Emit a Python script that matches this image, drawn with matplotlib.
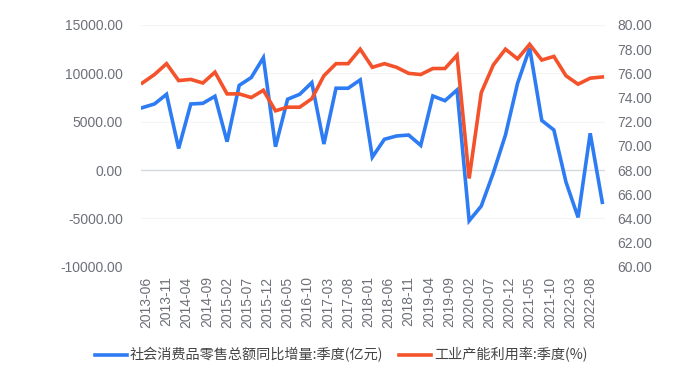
import matplotlib
matplotlib.use('Agg')
import matplotlib.pyplot as plt
import matplotlib.transforms as mtransforms
from matplotlib.ticker import FixedLocator, FuncFormatter

plt.rcParams['font.family'] = ['Noto Sans CJK SC', 'DejaVu Sans']

quarters = ['2013-06', '2013-09', '2013-12',
            '2014-03', '2014-06', '2014-09', '2014-12',
            '2015-03', '2015-06', '2015-09', '2015-12',
            '2016-03', '2016-06', '2016-09', '2016-12',
            '2017-03', '2017-06', '2017-09', '2017-12',
            '2018-03', '2018-06', '2018-09', '2018-12',
            '2019-03', '2019-06', '2019-09', '2019-12',
            '2020-03', '2020-06', '2020-09', '2020-12',
            '2021-03', '2021-06', '2021-09', '2021-12',
            '2022-03', '2022-06', '2022-09', '2022-12']

retail_yoy = [6450, 6830, 7830,
              2230, 6830, 6900, 7630,
              2930, 8750, 9570, 11620,
              2410, 7320, 7830, 9040,
              2690, 8460, 8460, 9320,
              1330, 3180, 3520, 3620,
              2550, 7660, 7170, 8280,
              -5250, -3730, -280, 3620,
              8970, 12600, 5130, 4140,
              -1250, -4900, 3800, -3340]

capacity = [75.2, 75.9, 76.8,
            75.4, 75.5, 75.2, 76.1,
            74.3, 74.3, 74.0, 74.6,
            72.9, 73.2, 73.2, 73.9,
            75.8, 76.8, 76.8, 78.0,
            76.5, 76.8, 76.5, 76.0,
            75.9, 76.4, 76.4, 77.5,
            67.3, 74.4, 76.7, 78.0,
            77.2, 78.4, 77.1, 77.4,
            75.8, 75.1, 75.6, 75.7]

tick_labels = ['2013-06', '2013-11', '2014-04', '2014-09', '2015-02', '2015-07',
               '2015-12', '2016-05', '2016-10', '2017-03', '2017-08', '2018-01',
               '2018-06', '2018-11', '2019-04', '2019-09', '2020-02', '2020-07',
               '2020-12', '2021-05', '2021-10', '2022-03', '2022-08']

left_ticks = [-10000, -5000, 0, 5000, 10000, 15000]
right_ticks = [60, 62, 64, 66, 68, 70, 72, 74, 76, 78, 80]

name_retail = '社会消费品零售总额同比增量:季度(亿元)'
name_capacity = '工业产能利用率:季度(%)'


def month_index(s):
    y, m = s.split('-')
    return (int(y) - 2013) * 12 + int(m) - 6


x = [month_index(q) for q in quarters]
xt = [month_index(t) for t in tick_labels]

BLUE = '#2e7cf3'
ORANGE = '#f4522b'
LABEL = '#6e7079'

fig = plt.figure(figsize=(7, 3.77), dpi=100)
W, H = 700, 377
ax = fig.add_axes([141 / W, 1 - 266.7 / H, 464 / W, (266.7 - 25) / H])
ax2 = ax.twinx()

ax.set_xlim(-0.33, 114.67)
ax.set_ylim(-10000, 15000)
ax2.set_ylim(60, 80)

for a in (ax, ax2):
    for s in a.spines.values():
        s.set_visible(False)
    a.tick_params(length=0, colors=LABEL)

ax.yaxis.set_major_locator(FixedLocator(left_ticks))
ax2.yaxis.set_major_locator(FixedLocator(right_ticks))
fmt = FuncFormatter(lambda v, p: f'{v:.2f}')
ax.yaxis.set_major_formatter(fmt)
ax2.yaxis.set_major_formatter(fmt)
ax.tick_params(axis='y', pad=13, labelsize=10)
ax2.tick_params(axis='y', pad=9, labelsize=10)
for lab in ax.get_yticklabels() + ax2.get_yticklabels():
    lab.set_fontfamily(['Liberation Sans', 'DejaVu Sans'])

ax.set_xticks(xt)
ax.set_xticklabels(tick_labels, rotation=90, fontsize=10,
                   fontfamily=['Liberation Sans', 'DejaVu Sans'])
ax.tick_params(axis='x', pad=7)
offset = mtransforms.ScaledTranslation(4 / 100, 0, fig.dpi_scale_trans)
for lab in ax.get_xticklabels():
    lab.set_transform(lab.get_transform() + offset)

for t in left_ticks:
    if t != 0:
        ax.axhline(t, color='#f4f4f4', lw=0.8, zorder=0)
ax.axhline(0, color='#d3d9dd', lw=1.0, zorder=1)

l1, = ax.plot(x, retail_yoy, color=BLUE, lw=2.6, solid_joinstyle='miter', zorder=3)
l2, = ax2.plot(x, capacity, color=ORANGE, lw=2.6, solid_joinstyle='miter', zorder=3)

fig.legend([l1, l2], [name_retail, name_capacity], loc='center',
           bbox_to_anchor=(341 / W, 1 - 355 / H), ncol=2, frameon=False,
           handlelength=2.25, handletextpad=0.2, columnspacing=1.15,
           prop={'family': ['Noto Sans CJK SC', 'DejaVu Sans'], 'size': 10.2},
           labelcolor='#444444')

fig.savefig('out.png', dpi=100)
